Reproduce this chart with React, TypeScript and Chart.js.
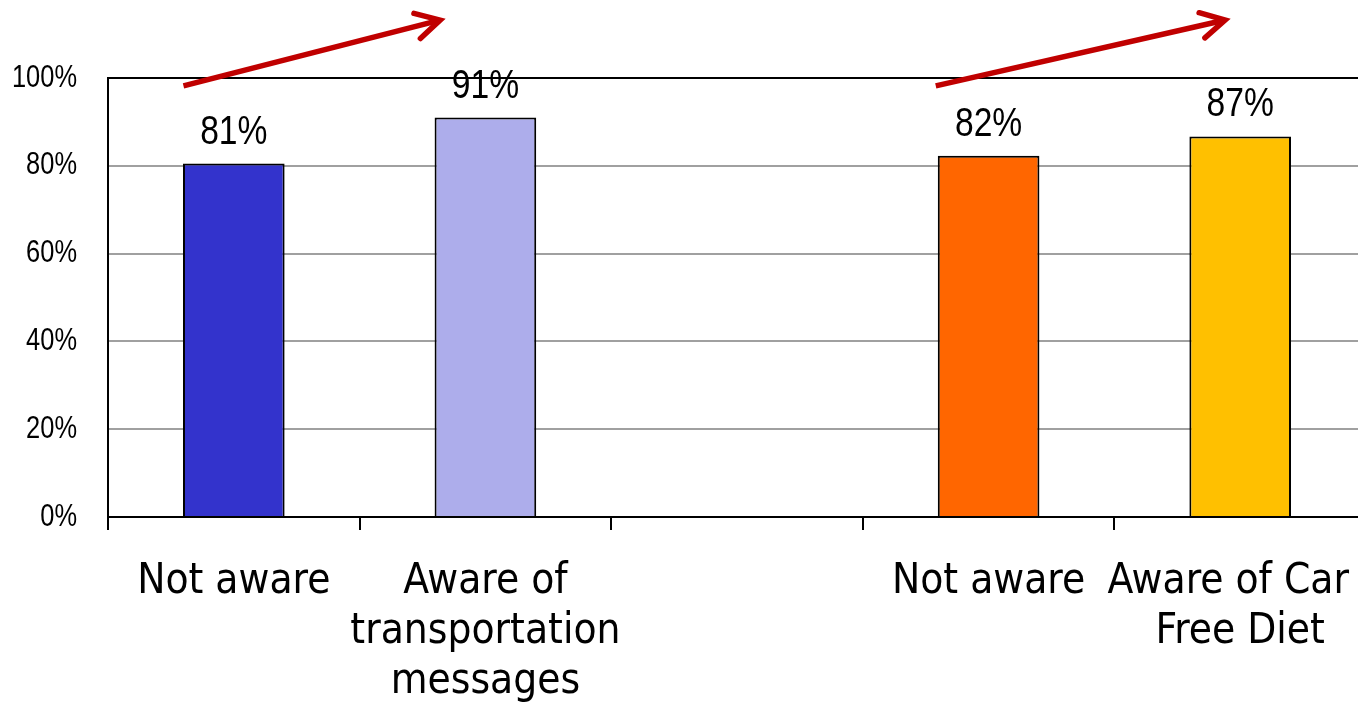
import React, { useEffect, useRef } from "react";
import { Chart, registerables } from "chart.js";

Chart.register(...registerables);

const categories: string[][] = [
  ["Not aware"],
  ["Aware of", "transportation", "messages"],
  [""],
  ["Not aware"],
  ["Aware of Car\u00A0\u00A0", "Free Diet"],
];
const values: (number | null)[] = [80.5, 91.0, null, 82.3, 86.7];
const barColors: string[] = ["#3333CC", "#ADADEB", "#FFFFFF", "#FF6600", "#FFC000"];
const yTicks: number[] = [0, 20, 40, 60, 80, 100];
// arrows in data units: [categoryIndex, value]
const arrowFrom: [number, number][] = [[-0.2, 98.2], [2.79, 98.2]];
const arrowTo: [number, number][] = [[0.82, 113.2], [3.94, 113.2]];

const NUM_FONT = "'Liberation Sans', Arial, sans-serif";
const TEXT_FONT = "'DejaVu Sans Condensed', 'DejaVu Sans', sans-serif";
const SQUEEZE = 0.82;

function squeezedText(ctx: CanvasRenderingContext2D, text: string, x: number, y: number) {
  ctx.save();
  ctx.translate(x, y);
  ctx.scale(SQUEEZE, 1);
  ctx.fillText(text, 0, 0);
  ctx.restore();
}

const overlayPlugin = {
  id: "overlay",
  afterDraw(chart: any) {
    const ctx = chart.ctx as CanvasRenderingContext2D;
    const meta = chart.getDatasetMeta(0);
    const xs = chart.scales.x;
    const ys = chart.scales.y;
    ctx.save();
    ctx.fillStyle = "#000";
    // y tick labels
    ctx.font = `31px ${NUM_FONT}`;
    ctx.textAlign = "right";
    ctx.textBaseline = "middle";
    yTicks.forEach((t) => {
      squeezedText(ctx, t + "%", 77, ys.getPixelForValue(t));
    });
    // data labels
    ctx.font = `41px ${NUM_FONT}`;
    ctx.textAlign = "center";
    ctx.textBaseline = "alphabetic";
    meta.data.forEach((bar: any, i: number) => {
      const v = values[i];
      if (v === null || v === undefined) return;
      squeezedText(ctx, Math.round(v) + "%", bar.x, bar.y - 20);
    });
    // arrows
    ctx.strokeStyle = "#C00000";
    ctx.lineWidth = 5.5;
    ctx.lineJoin = "miter";
    arrowFrom.forEach((from, k) => {
      const to = arrowTo[k];
      const x1 = xs.getPixelForValue(from[0]);
      const y1 = ys.getPixelForValue(from[1]);
      const x2 = xs.getPixelForValue(to[0]);
      const y2 = ys.getPixelForValue(to[1]);
      ctx.lineCap = "butt";
      ctx.beginPath();
      ctx.moveTo(x1, y1);
      ctx.lineTo(x2 - 2, y2 + 0.5);
      ctx.stroke();
      const ang = Math.atan2(y1 - y2, x1 - x2);
      const len = 27;
      const spread = 0.5;
      ctx.lineCap = "round";
      ctx.beginPath();
      ctx.moveTo(x2 + len * Math.cos(ang - spread), y2 + len * Math.sin(ang - spread));
      ctx.lineTo(x2, y2);
      ctx.lineTo(x2 + len * Math.cos(ang + spread), y2 + len * Math.sin(ang + spread));
      ctx.stroke();
    });
    ctx.restore();
  },
};

export default function App() {
  const ref = useRef<HTMLCanvasElement | null>(null);
  useEffect(() => {
    if (!ref.current) return;
    const chart = new Chart(ref.current, {
      type: "bar",
      data: {
        labels: categories,
        datasets: [
          {
            data: values,
            backgroundColor: barColors,
            borderColor: "#000000",
            borderWidth: 2,
            categoryPercentage: 1,
            barPercentage: 0.404,
          },
        ],
      },
      options: {
        animation: false,
        responsive: false,
        maintainAspectRatio: false,
        layout: { padding: { top: 78, left: 0, right: 0, bottom: 0 } },
        plugins: {
          legend: { display: false },
          tooltip: { enabled: false },
          title: { display: false },
        },
        scales: {
          x: {
            offset: true,
            border: { display: true, color: "#000", width: 2 },
            grid: {
              offset: true,
              display: true,
              drawOnChartArea: false,
              drawTicks: true,
              tickLength: 13,
              color: "#000",
              lineWidth: 2,
            },
            ticks: {
              color: "#000",
              padding: 27,
              maxRotation: 0,
              autoSkip: false,
              font: { family: TEXT_FONT, size: 42, lineHeight: 50 / 42 },
            },
            afterFit: (s: any) => {
              s.height = 186;
              s.paddingLeft = 0;
              s.paddingRight = 0;
            },
          },
          y: {
            min: 0,
            max: 100,
            afterBuildTicks: (s: any) => {
              s.ticks = yTicks.map((v) => ({ value: v }));
            },
            border: { display: true, color: "#000", width: 2 },
            grid: {
              drawTicks: false,
              color: (c: any) => (c.tick && c.tick.value === 100 ? "#000" : "#A0A0A0"),
              lineWidth: 2,
            },
            ticks: { display: false },
            afterFit: (s: any) => {
              s.width = 108;
              s.paddingTop = 0;
              s.paddingBottom = 0;
            },
          },
        },
      },
      plugins: [overlayPlugin],
    });
    return () => chart.destroy();
  }, []);
  return (
    <div
      style={{
        position: "fixed",
        left: 0,
        top: 0,
        width: 1358,
        height: 703,
        overflow: "hidden",
        background: "#fff",
      }}
    >
      <canvas ref={ref} width={1366} height={703} style={{ display: "block" }} />
    </div>
  );
}
